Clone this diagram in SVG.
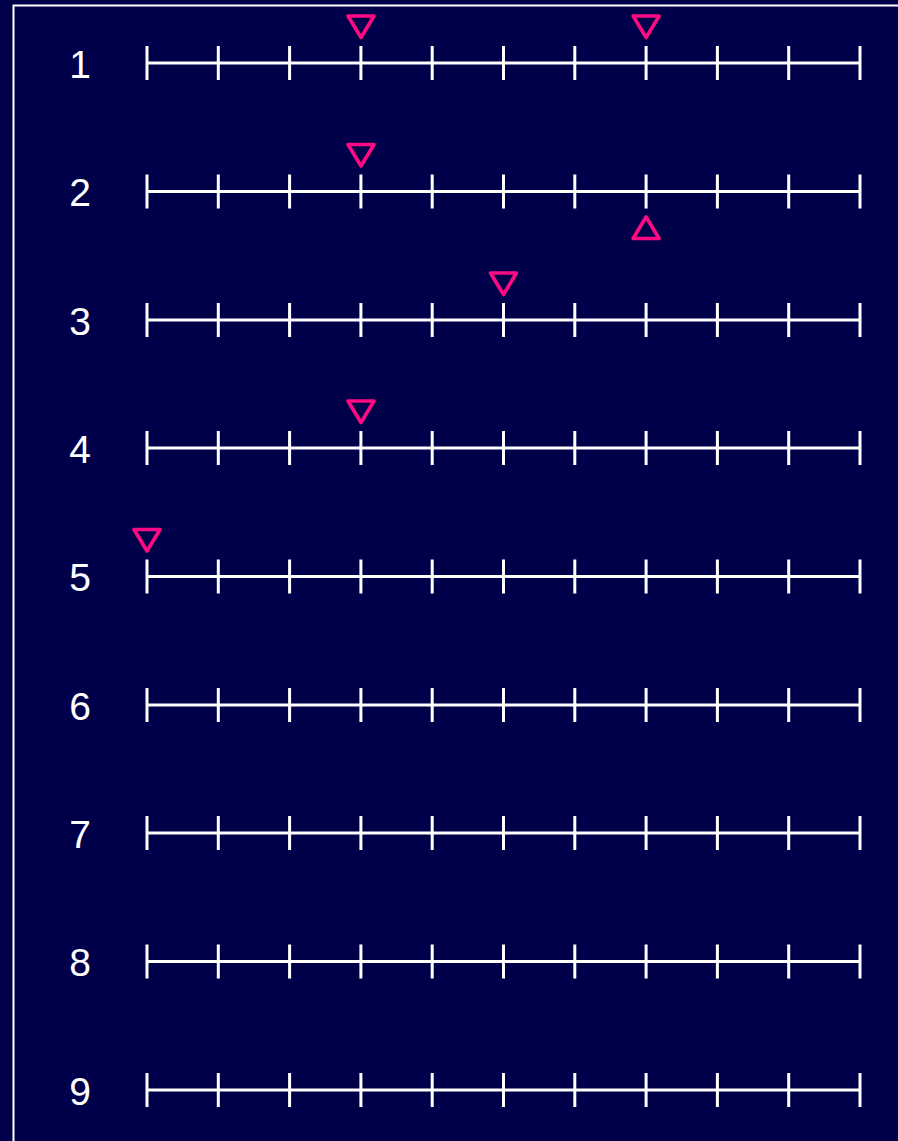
<svg xmlns="http://www.w3.org/2000/svg" xmlns:xlink="http://www.w3.org/1999/xlink" width="898" height="1141" viewBox="0 0 898 1141">
<style>
.ax{stroke:#ffffff;stroke-width:3;fill:none}
.tri{stroke:#ff0a82;stroke-width:3.6;fill:none;stroke-linejoin:round}
.lbl{font-family:"Liberation Sans",Arial,sans-serif;font-size:39px;fill:#ffffff;text-anchor:middle}
</style>
<defs>
<g id="axis">
<path class="ax" d="M147 0H860M147 -17V17M218.3 -17V17M289.6 -17V17M360.9 -17V17M432.2 -17V17M503.5 -17V17M574.8 -17V17M646.1 -17V17M717.4 -17V17M788.7 -17V17M860 -17V17"/>
</g>
<polygon id="down" class="tri" points="-13,-47 13,-47 0,-25.5"/>
<polygon id="up" class="tri" points="-13,47 13,47 0,25.5"/>
</defs>
<rect x="0" y="0" width="898" height="1141" fill="#00004a"/>
<rect x="13.5" y="5.5" width="900" height="1150" fill="none" stroke="#ffffff" stroke-width="2"/>
<g id="row1" transform="translate(0,63)"><use xlink:href="#axis"/><text class="lbl" x="80" y="14.5">1</text></g>
<g id="row2" transform="translate(0,191.5)"><use xlink:href="#axis"/><text class="lbl" x="80" y="14.5">2</text></g>
<g id="row3" transform="translate(0,320)"><use xlink:href="#axis"/><text class="lbl" x="80" y="14.5">3</text></g>
<g id="row4" transform="translate(0,448)"><use xlink:href="#axis"/><text class="lbl" x="80" y="14.5">4</text></g>
<g id="row5" transform="translate(0,576.5)"><use xlink:href="#axis"/><text class="lbl" x="80" y="14.5">5</text></g>
<g id="row6" transform="translate(0,705)"><use xlink:href="#axis"/><text class="lbl" x="80" y="14.5">6</text></g>
<g id="row7" transform="translate(0,833)"><use xlink:href="#axis"/><text class="lbl" x="80" y="14.5">7</text></g>
<g id="row8" transform="translate(0,961.5)"><use xlink:href="#axis"/><text class="lbl" x="80" y="14.5">8</text></g>
<g id="row9" transform="translate(0,1090)"><use xlink:href="#axis"/><text class="lbl" x="80" y="14.5">9</text></g>
<g id="markers">
<use xlink:href="#down" x="361" y="63"/>
<use xlink:href="#down" x="646.1" y="63"/>
<use xlink:href="#down" x="361" y="191.5"/>
<use xlink:href="#up" x="646.1" y="191.5"/>
<use xlink:href="#down" x="503.5" y="320"/>
<use xlink:href="#down" x="361" y="448"/>
<use xlink:href="#down" x="147" y="576.5"/>
</g>
</svg>
